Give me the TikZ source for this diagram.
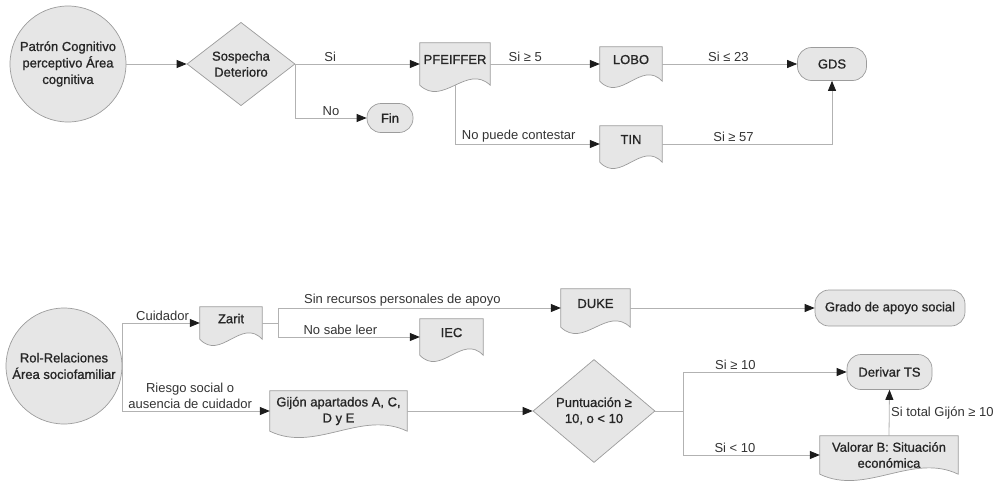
\documentclass[tikz,border=0pt]{standalone}
\usepackage{fontspec}
\setmainfont{Liberation Sans}
\newfontfamily\nodefont{Liberation Sans}[FakeBold=1]
\usetikzlibrary{arrows.meta, positioning, shapes.geometric, calc, backgrounds}
\definecolor{cfill}{HTML}{E6E6E6}
\definecolor{cline}{HTML}{9C9C9C}
\definecolor{cflow}{HTML}{B2B2B2}
\definecolor{ctext}{HTML}{333333}
\definecolor{cnode}{HTML}{262626}
\definecolor{ctip}{HTML}{1C1C1C}

\begin{document}
\begin{tikzpicture}[
    x=1pt, y=-1pt,
    font=\fontsize{13}{16}\selectfont, text=ctext,
    startnode/.style={
        circle, draw=cline, fill=cfill, line width=0.7pt,
        minimum size=116pt, inner sep=0pt, align=center, text=cnode,
        font=\nodefont\fontsize{13}{16.5}\selectfont
    },
    decision/.style={
        diamond, draw=cline, fill=cfill, line width=0.7pt,
        inner sep=0pt, align=center, text=cnode,
        font=\nodefont\fontsize{13}{16}\selectfont
    },
    docnode/.style={
        rectangle, inner sep=2pt, align=center, text=cnode,
        font=\nodefont\fontsize{13}{16}\selectfont
    },
    raised/.style={text depth=9pt},
    docline/.style={draw=cline, fill=cfill, line width=0.7pt},
    endnode/.style={
        rectangle, rounded corners=14pt, draw=cline, fill=cfill,
        line width=0.7pt, align=center, text=cnode,
        font=\nodefont\fontsize{13}{16}\selectfont
    },
    flow/.style={-{Triangle[length=10pt, width=8pt, color=ctip]},
        line width=0.8pt, draw=cflow},
    flowline/.style={line width=0.8pt, draw=cflow},
    flabel/.style={inner sep=1.5pt},
]
\useasboundingbox (0,0) rectangle (1005,480);

% --- Area cognitiva ----------------------------------------------------------
\node[startnode] (cog) at (68,64) {Patrón Cognitivo\\perceptivo Área\\cognitiva};
\node[decision, minimum width=108pt, minimum height=65pt] (sosp) at (241,64)
    {Sospecha\\Deterioro};
\node[endnode, minimum width=46pt, minimum height=29pt] (fin) at (390,118) {Fin};
\node[docnode, raised, minimum width=70pt, minimum height=42pt] (pfeiffer) at (455,64)
    {PFEIFFER};
\node[docnode, raised, minimum width=62pt, minimum height=34pt] (lobo) at (631,64) {LOBO};
\node[docnode, raised, minimum width=62pt, minimum height=36pt] (tin) at (631,144) {TIN};
\node[endnode, minimum width=69pt, minimum height=33pt] (gds) at (832,64) {GDS};

% --- Area sociofamiliar ------------------------------------------------------
\node[startnode] (rol) at (64,366) {Rol-Relaciones\\Área sociofamiliar};
\node[docnode, raised, minimum width=62pt, minimum height=32pt] (zarit) at (231,323) {Zarit};
\coordinate (zsplit) at (278,323);
\node[docnode, raised, minimum width=69pt, minimum height=38pt] (duke) at (595.5,308) {DUKE};
\node[docnode, raised, minimum width=63pt, minimum height=36pt] (iec) at (451.5,337) {IEC};
\node[endnode, minimum width=150pt, minimum height=36pt] (grado) at (890,308)
    {Grado de apoyo social};
\node[docnode, minimum width=137pt, minimum height=40pt] (gijon) at (338.5,411)
    {Gijón apartados A, C,\\D y E};
\node[decision, minimum width=122pt, minimum height=75pt] (punt) at (594,411)
    {Puntuación ≥\\10, o < 10};
\coordinate (psplit) at (683,411);
\node[endnode, minimum width=85pt, minimum height=35pt] (derivar) at (889.5,372)
    {Derivar TS};
\node[docnode, minimum width=138pt, minimum height=38pt] (valorar) at (889,455)
    {Valorar B: Situación\\económica};

% --- Document outlines (wavy bottom) -----------------------------------------
\begin{scope}[on background layer]
\foreach \n in {pfeiffer, lobo, tin, zarit, duke, iec, gijon, valorar}
    \draw[docline] (\n.north west) -- (\n.north east) -- (\n.south east)
        .. controls ($(\n.south east)!0.33!(\n.south west)+(0,-22)$)
        and ($(\n.south east)!0.67!(\n.south west)+(0,22)$) .. (\n.south west)
        -- cycle;
\end{scope}

% --- Connectors, top ---------------------------------------------------------
\draw[flow] (cog.east) -- (sosp.west);
\draw[flow] (sosp.east) -- node[flabel, above, pos=0.28] {Si} (pfeiffer.west);
\draw[flow] (sosp.east) |- node[flabel, above, pos=0.75] {No} (fin.west);
\draw[flow] (pfeiffer.east) -- node[flabel, above, pos=0.32] {Si ≥ 5} (lobo.west);
\draw[flow] (lobo.east) -- node[flabel, above, pos=0.49] {Si ≤ 23} (gds.west);
\draw[flow] (pfeiffer.south) |- node[flabel, above, pos=0.72] {No puede contestar}
    (tin.west);
\draw[flow] (tin.east) -| node[flabel, above, pos=0.21] {Si ≥ 57} (gds.south);

% --- Connectors, bottom ------------------------------------------------------
\draw[flow] (rol.east) |- node[flabel, above, pos=0.76] {Cuidador} (zarit.west);
\draw[flow] (rol.east) |- node[flabel, above, pos=0.73, align=center]
    {Riesgo social o\\ausencia de cuidador} (gijon.west);
\draw[flowline] (zarit.east) -- (zsplit);
\draw[flow] (zsplit) |- node[flabel, above, pos=0.72]
    {Sin recursos personales de apoyo} (duke.west);
\draw[flow] (zsplit) |- node[flabel, above, pos=0.72] {No sabe leer} (iec.west);
\draw[flow] (duke.east) -- (grado.west);
\draw[flow] (gijon.east) -- (punt.west);
\draw[flowline] (punt.east) -- (psplit);
\draw[flow] (psplit) |- node[flabel, above, pos=0.66] {Si ≥ 10} (derivar.west);
\draw[flow] (psplit) |- node[flabel, above, pos=0.69] {Si < 10} (valorar.west);
\draw[flow] (valorar.north) -- node[flabel, right, midway] {Si total Gijón ≥ 10}
    (derivar.south);

\end{tikzpicture}
\end{document}
